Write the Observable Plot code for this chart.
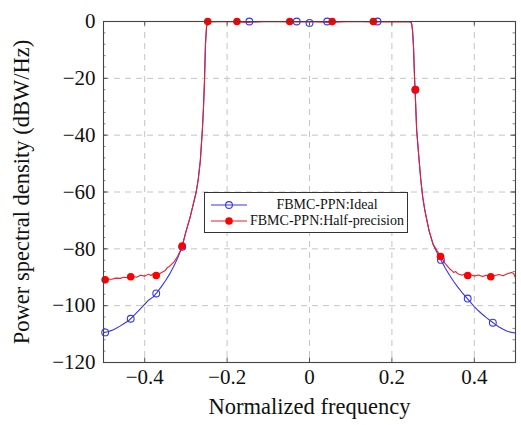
<!DOCTYPE html>
<html>
<head>
<meta charset="utf-8">
<script src="https://cdn.jsdelivr.net/npm/d3@7"></script>
<script src="https://cdn.jsdelivr.net/npm/@observablehq/plot@0.6"></script>
<style>
  html, body { margin: 0; padding: 0; background: #fff; }
  #wrap { position: relative; width: 521px; height: 425px; font-family: "Liberation Serif", serif; }
  #chart svg, #chart svg text { font-family: "Liberation Serif", serif !important; }
  #legend { position: absolute; left: 204px; top: 192px; width: 202px; height: 39px; border: 1px solid #333; background: #fff; font-size: 14px; color: #111; }
  .row { position: absolute; left: 0; width: 202px; height: 16px; }
  .row svg { position: absolute; left: 6px; top: 0; }
  .row span { position: absolute; left: 44px; right: 2px; text-align: center; top: 0; line-height: 16px; white-space: nowrap; }
</style>
</head>
<body>
<div id="wrap">
  <div id="chart"></div>
  <div id="legend">
    <div class="row" style="top:4px"><svg width="38" height="16"><line x1="0" x2="36" y1="8" y2="8" stroke="#3535ee" stroke-width="1.2"/><circle cx="18" cy="8" r="3.4" fill="none" stroke="#3535ee" stroke-width="1.1"/></svg><span>FBMC-PPN:Ideal</span></div>
    <div class="row" style="top:20px"><svg width="38" height="16"><line x1="0" x2="36" y1="8" y2="8" stroke="#e8202a" stroke-width="1.2"/><circle cx="18" cy="8" r="3.8" fill="#ff0000"/></svg><span>FBMC-PPN:Half-precision</span></div>
  </div>
</div>
<script>
// ---- data ----
const idealX = [-0.5,-0.49,-0.48,-0.47,-0.46,-0.45,-0.44,-0.43,-0.42,-0.41,-0.40,-0.39,-0.38,-0.37,-0.36,-0.35,-0.34,-0.33,-0.32,-0.31,-0.30,-0.29,-0.28,-0.275,-0.27,-0.265,-0.26,-0.2575,-0.255,-0.2525,-0.25,-0.248,-0.246,-0.24,-0.2,-0.1,0,0.1,0.2,0.24,0.246,0.248,0.25,0.2525,0.255,0.2575,0.26,0.265,0.27,0.275,0.28,0.29,0.30,0.31,0.32,0.33,0.34,0.35,0.36,0.37,0.38,0.39,0.40,0.41,0.42,0.43,0.44,0.45,0.46,0.47,0.48,0.49,0.5];
const idealY = [-109.5,-109.2,-108.7,-108.0,-107.2,-106.3,-105.4,-104.0,-102.5,-101.0,-99.5,-98.0,-97.0,-95.3,-93.4,-91.3,-89.0,-86.3,-83.2,-79.6,-74.0,-69.0,-63.0,-60.0,-55.5,-49.0,-38.0,-31.0,-21.5,-8.0,-2.0,-0.6,-0.2,0,0,0,0,0,0,0,-0.2,-0.8,-3.0,-9.0,-20.0,-28.5,-38.0,-47.0,-55.5,-62.0,-66.5,-73.5,-78.5,-81.5,-84.2,-86.9,-89.3,-91.5,-93.5,-95.3,-97.0,-98.7,-100.3,-101.8,-103.1,-104.3,-105.4,-106.5,-107.5,-108.3,-109.0,-109.4,-109.6];

const halfX = [-0.5,-0.495,-0.49,-0.48,-0.47,-0.46,-0.45,-0.44,-0.434,-0.43,-0.42,-0.41,-0.40,-0.39,-0.385,-0.38,-0.372,-0.365,-0.36,-0.35,-0.345,-0.34,-0.33,-0.32,-0.31,-0.30,-0.29,-0.28,-0.275,-0.27,-0.265,-0.26,-0.2575,-0.255,-0.2525,-0.25,-0.248,-0.246,-0.24,-0.2,-0.15,-0.1,-0.05,0,0.05,0.1,0.15,0.2,0.24,0.246,0.248,0.25,0.2525,0.255,0.2575,0.26,0.265,0.27,0.275,0.28,0.29,0.30,0.31,0.318,0.32,0.33,0.34,0.345,0.35,0.355,0.36,0.37,0.375,0.38,0.384,0.39,0.40,0.41,0.42,0.43,0.44,0.45,0.46,0.47,0.48,0.49,0.495,0.5];
const halfY = [-91.0,-90.8,-90.6,-90.7,-90.3,-90.4,-90.0,-90.2,-89.8,-89.6,-90.0,-89.3,-89.6,-88.9,-89.4,-88.8,-89.4,-88.9,-88.4,-87.6,-86.6,-86.2,-84.8,-82.6,-79.6,-74.0,-69.0,-63.0,-60.0,-55.5,-49.0,-38.0,-31.0,-21.5,-8.0,-2.0,-0.6,-0.2,-0.2,0,-0.3,0,-0.2,-0.1,-0.3,0,-0.2,-0.1,-0.2,-0.2,-0.8,-3.0,-9.0,-20.0,-28.5,-38.0,-47.0,-55.5,-62.0,-66.5,-73.5,-78.3,-80.8,-82.7,-83.2,-85.3,-87.0,-87.6,-88.3,-88.0,-88.8,-89.3,-88.9,-89.5,-89.4,-89.0,-89.6,-89.2,-89.7,-89.3,-89.8,-89.4,-89.0,-89.5,-88.8,-88.3,-88.6,-90.2];

const idealMarkX = [-0.496,-0.434,-0.372,-0.309,-0.146,-0.031,0.0,0.043,0.165,0.257,0.319,0.384,0.445];
const idealMarkY = [-109.4,-104.6,-95.7,-79.3,0,0,-0.5,0,0,-24,-83.9,-97.5,-106];
const halfMarkX = [-0.496,-0.434,-0.372,-0.309,-0.247,-0.176,-0.048,0.055,0.155,0.257,0.318,0.384,0.44];
const halfMarkY = [-90.9,-89.8,-89.4,-79.0,0,0,0,0,0,-24,-82.7,-89.4,-89.8];

const xTicks = [-0.4,-0.2,0,0.2,0.4];
const yTicks = [-120,-100,-80,-60,-40,-20,0];
const yMinor = d3.range(-120, 1, 4);

const xLabel = "Normalized frequency";
const yLabel = "Power spectral density (dBW/Hz)";

// ---- build ----
const ideal = idealX.map((x,i)=>({x, y: idealY[i]}));
const half = halfX.map((x,i)=>({x, y: halfY[i]}));
const idealM = idealMarkX.map((x,i)=>({x, y: idealMarkY[i]}));
const halfM = halfMarkX.map((x,i)=>({x, y: halfMarkY[i]}));

const W = 521, H = 425, mL = 103, mR = 6, mT = 21, mB = 63;
const plotH = H - mT - mB, plotW = W - mL - mR;
const fmt = d => d === 0 ? "0" : (d < 0 ? "\u2212" : "") + Math.abs(d);

const blue = "#3535ee", red = "#e8202a";

const chart = Plot.plot({
  width: W, height: H,
  marginLeft: mL, marginRight: mR, marginTop: mT, marginBottom: mB,
  style: {fontFamily: "'Liberation Serif', serif", fontSize: "21px", color: "#111", background: "#fff"},
  x: {domain: [-0.5, 0.5]},
  y: {domain: [-120, 0]},
  marks: [
    Plot.gridX(xTicks, {stroke: "#c4c4c4", strokeOpacity: 1, strokeDasharray: "6,5"}),
    Plot.gridY(yTicks, {stroke: "#c4c4c4", strokeOpacity: 1, strokeDasharray: "6,5"}),
    Plot.tickY(yMinor, {y: d=>d, stroke: "#888", insetRight: plotW - 2.5}),
    Plot.tickY(yMinor, {y: d=>d, stroke: "#888", insetLeft: plotW - 2.5}),
    Plot.tickY(yTicks, {y: d=>d, stroke: "#555", insetRight: plotW - 4.5}),
    Plot.tickY(yTicks, {y: d=>d, stroke: "#555", insetLeft: plotW - 4.5}),
    Plot.tickX(xTicks, {x: d=>d, stroke: "#555", insetTop: plotH - 4.5}),
    Plot.tickX(xTicks, {x: d=>d, stroke: "#555", insetBottom: plotH - 4.5}),
    Plot.axisX(xTicks, {tickSize: 0, tickPadding: 7, tickFormat: fmt, fontSize: "21px", label: null}),
    Plot.axisY(yTicks, {tickSize: 0, tickPadding: 8, tickFormat: fmt, fontSize: "21px", label: null}),
    Plot.text([xLabel], {frameAnchor: "bottom", text: d => d, textAnchor: "middle", lineAnchor: "top", dy: 36, fontSize: "22.5px", fill: "#111"}),
    Plot.text([yLabel], {frameAnchor: "left", text: d => d, textAnchor: "middle", lineAnchor: "top", rotate: -90, dx: -90, fontSize: "22.5px", fill: "#111"}),
    Plot.line(ideal, {x: "x", y: "y", stroke: blue, strokeWidth: 1.1}),
    Plot.line(half, {x: "x", y: "y", stroke: red, strokeWidth: 1.1}),
    Plot.dot(idealM, {x: "x", y: "y", r: 3.4, stroke: blue, strokeWidth: 1.1, fill: "none"}),
    Plot.dot(halfM, {x: "x", y: "y", r: 3.8, fill: "#ff0000", stroke: "none"}),
    Plot.frame({stroke: "#444", strokeWidth: 1.1})
  ]
});
document.getElementById("chart").appendChild(chart);
</script>
</body>
</html>
